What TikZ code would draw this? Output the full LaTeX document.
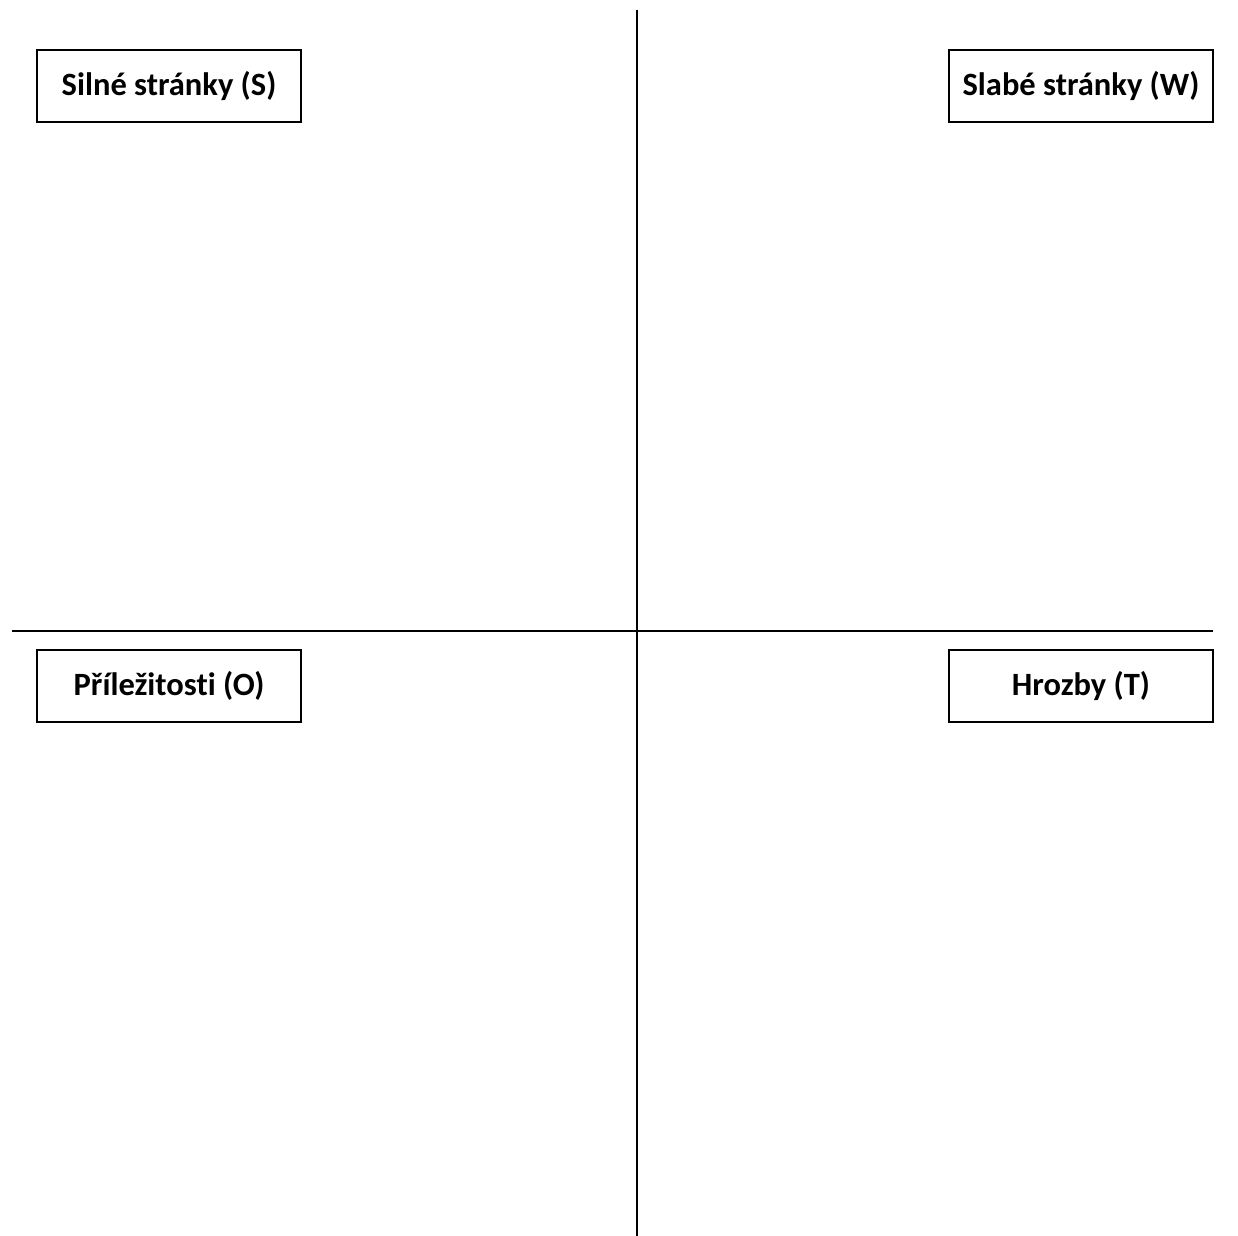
\documentclass[tikz,border=0pt]{standalone}
\usepackage{fontspec}
\setmainfont[Ligatures=NoCommon]{Carlito}
\usetikzlibrary{positioning}

\begin{document}
\begin{tikzpicture}[x=0.02cm,y=-0.02cm,
  label box/.style={draw,line width=0.04cm,minimum width=5.28cm,minimum height=1.44cm,inner sep=0pt,font=\fontsize{18.5}{20}\selectfont\bfseries},
  axis line/.style={line width=0.04cm}]
  \useasboundingbox (0,0) rectangle (1238,1236);
  % osy
  \coordinate (top) at (637,10);
  \coordinate (bottom) at (637,1236);
  \coordinate (left) at (12,631);
  \coordinate (right) at (1213,631);
  \draw[axis line] (top) -- (bottom);
  \draw[axis line] (left) -- (right);
  % popisky kvadrantu
  \node[label box] (silne) at (169,86) {Silné stránky (S)};
  \node[label box] (slabe) at (1081,86) {Slabé stránky (W)};
  \node[label box] (prilez) at (169,686) {Příležitosti (O)};
  \node[label box] (hrozby) at (1081,686) {Hrozby (T)};
\end{tikzpicture}
\end{document}
